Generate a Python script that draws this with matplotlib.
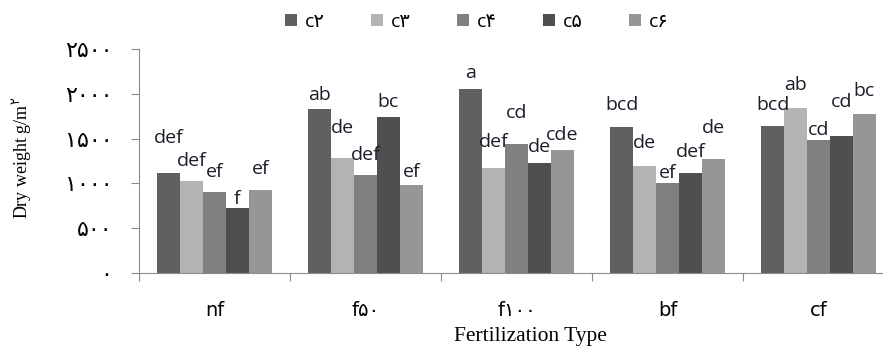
import matplotlib.pyplot as plt
import numpy as np
from matplotlib.patches import Patch

# data
groups = ["nf", "f۵۰", "f۱۰۰", "bf", "cf"]
series = ["c۲", "c۳", "c۴", "c۵", "c۶"]
c2 = [1116, 1830, 2053, 1633, 1644]
c3 = [1027, 1280, 1175, 1198, 1842]
c4 = [907, 1094, 1436, 1001, 1484]
c5 = [725, 1738, 1228, 1113, 1532]
c6 = [923, 979, 1373, 1276, 1775]
letters = [
    ["def", "ab", "a", "bcd", "bcd"],
    ["def", "de", "def", "de", "ab"],
    ["ef", "def", "cd", "ef", "cd"],
    ["f", "bc", "de", "def", "cd"],
    ["ef", "ef", "cde", "de", "bc"],
]
ytick_vals = [0, 500, 1000, 1500, 2000, 2500]
ytick_labels = ["۰", "۵۰۰", "۱۰۰۰", "۱۵۰۰", "۲۰۰۰", "۲۵۰۰"]

# where each letter sits (data units)
letter_y = [
    [1451, 1931, 2172, 1819, 1819],
    [1194, 1566, 1410, 1391, 2042],
    [1071, 1261, 1726, 1057, 1540],
    [770, 1856, 1354, 1298, 1849],
    [1105, 1075, 1484, 1566, 1971],
]

colors = ["#606060", "#b3b3b3", "#808080", "#4f4f4f", "#969696"]
values = [c2, c3, c4, c5, c6]

W, H = 883, 347
fig = plt.figure(figsize=(W / 100, H / 100), dpi=100)
ax = fig.add_axes([139 / W, 1 - 273 / H, (894 - 139) / W, (273 - 49) / H])

x = np.arange(len(groups))
bw = 0.152
for i, (vals, col) in enumerate(zip(values, colors)):
    xs = x + (i - 2) * bw
    ax.bar(xs, vals, width=bw, color=col, edgecolor="none")
    for xi, ly, lab in zip(xs, letter_y[i], letters[i]):
        ax.text(xi, ly, lab, ha="center", va="baseline", fontsize=14,
                color="#1c1c2a", family=["Open Sans", "DejaVu Sans"])

ax.set_xlim(-0.5, 4.5)
ax.set_ylim(0, 2500)
for s in ["top", "right"]:
    ax.spines[s].set_visible(False)
for s in ["left", "bottom"]:
    ax.spines[s].set_color("#8c8c8c")

ax.set_yticks(ytick_vals)
ax.set_yticklabels(ytick_labels, family=["DejaVu Sans"], fontsize=16)
ax.tick_params(axis="y", length=6, color="#8c8c8c", pad=13)

ax.set_xticks(np.arange(-0.5, 4.6, 1.0))
ax.set_xticklabels([])
ax.set_xticks(x, minor=True)
ax.set_xticklabels(groups, minor=True, family=["DejaVu Sans"], fontsize=14)
ax.tick_params(axis="x", which="major", length=6, color="#8c8c8c")
ax.tick_params(axis="x", which="minor", length=0, pad=20)

fig.text(530 / W, 1 - 337 / H, "Fertilization Type", ha="center", va="center",
         family=["Liberation Serif", "DejaVu Sans"], fontsize=15.5)
fig.text(22 / W, 1 - 158 / H, "Dry weight g/m$^{۲}$", rotation=90, ha="center", va="center",
         family=["Liberation Serif", "DejaVu Sans"], fontsize=13)

handles = [Patch(facecolor=c, edgecolor="none") for c in colors]
fig.legend(handles, series, loc="center", bbox_to_anchor=(477 / W, 1 - 22 / H), ncol=5,
           frameon=False, handlelength=0.6, handleheight=0.6,
           handletextpad=0.4, columnspacing=2.4, prop={"family": ["Open Sans", "DejaVu Sans"], "size": 14})

fig.savefig("out.png", dpi=100)
